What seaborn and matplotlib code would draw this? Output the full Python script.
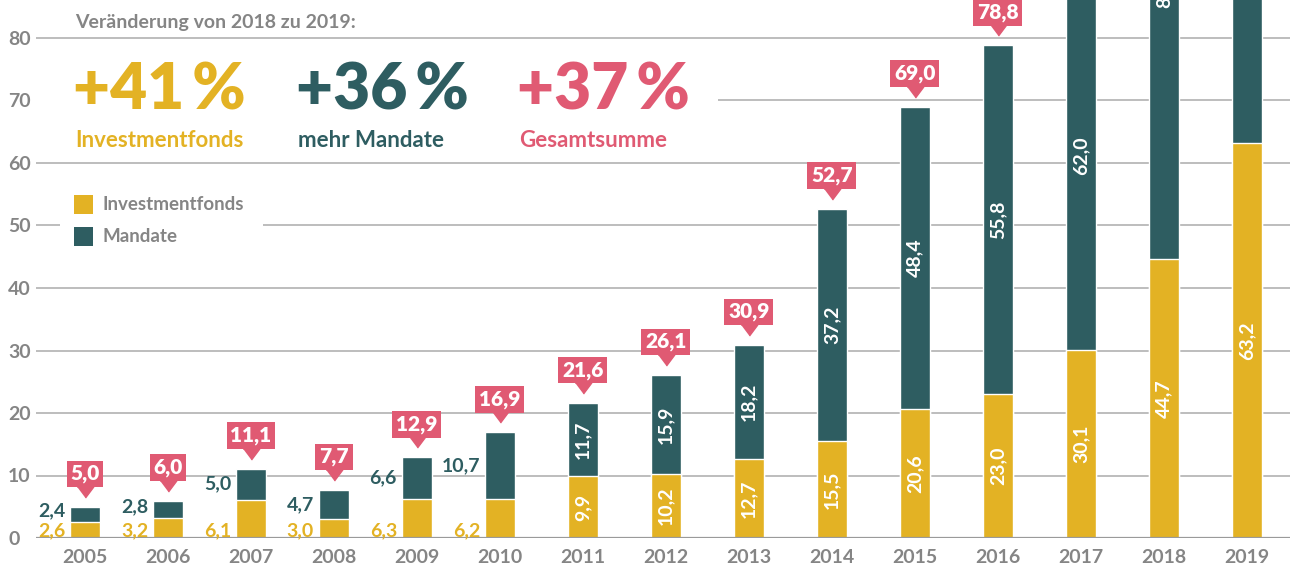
import matplotlib
matplotlib.use("Agg")
import matplotlib.pyplot as plt
import matplotlib.transforms as mtransforms
from matplotlib.patches import Rectangle
import seaborn as sns
import pandas as pd
import numpy as np

# ---- data ----
years = ["2005", "2006", "2007", "2008", "2009", "2010", "2011", "2012",
         "2013", "2014", "2015", "2016", "2017", "2018", "2019"]
investmentfonds = [2.6, 3.2, 6.1, 3.0, 6.3, 6.2, 9.9, 10.2, 12.7, 15.5, 20.6, 23.0, 30.1, 44.7, 63.2]
mandate = [2.4, 2.8, 5.0, 4.7, 6.6, 10.7, 11.7, 15.9, 18.2, 37.2, 48.4, 55.8, 62.0, 86.3, 117.4]
gesamt = [5.0, 6.0, 11.1, 7.7, 12.9, 16.9, 21.6, 26.1, 30.9, 52.7, 69.0, 78.8, 92.1, 131.0, 180.6]
y_ticks = [0, 10, 20, 30, 40, 50, 60, 70, 80]
headline = "Veränderung von 2018 zu 2019:"
kpi_values = ["+41\u2009%", "+36\u2009%", "+37\u2009%"]
kpi_labels = ["Investmentfonds", "mehr Mandate", "Gesamtsumme"]
legend_labels = ["Investmentfonds", "Mandate"]

YELLOW = "#E3B224"
TEAL = "#2E5D61"
PINK = "#E05A73"
GRAY = "#858585"
GRID = "#b8b8b8"

sns.set_theme(style="white")
plt.rcParams["font.family"] = ["Lato", "DejaVu Sans"]

df = pd.DataFrame({"year": years, "fonds": investmentfonds, "mandate": mandate})
df["top"] = df["fonds"] + df["mandate"]

W, H = 1290, 565
fig = plt.figure(figsize=(W / 100, H / 100), dpi=100)
ax = fig.add_axes([36 / W, 27 / H, (W - 36) / W, (H - 27) / H])

bw = 0.36
sns.barplot(data=df, x="year", y="top", color=TEAL, width=bw, saturation=1,
            errorbar=None, ax=ax, zorder=3)
sns.barplot(data=df, x="year", y="fonds", color=YELLOW, width=bw, saturation=1,
            errorbar=None, ax=ax, zorder=3)

ax.set_xlim(-0.59, 14.52)
ax.set_ylim(0, 538 / 6.25)
ax.set_yticks(y_ticks)
ax.set_yticklabels([str(t) for t in y_ticks])
for s in ax.spines.values():
    s.set_visible(False)
ax.yaxis.grid(True, color=GRID, linewidth=1.3, zorder=0)
ax.set_axisbelow(True)
ax.axhline(0, color="#9a9a9a", linewidth=1.6, zorder=4)
ax.set_xlabel("")
ax.set_ylabel("")
ax.tick_params(axis="y", length=0, pad=20, labelsize=14, labelcolor=GRAY)
ax.tick_params(axis="x", length=0, pad=8, labelsize=14, labelcolor=GRAY)
for lbl in ax.get_yticklabels():
    lbl.set_ha("left")
    lbl.set_fontweight("bold")
for lbl in ax.get_xticklabels():
    lbl.set_fontweight("bold")

ymax = ax.get_ylim()[1]
tri = [(-0.75, 0.5), (0.75, 0.5), (0.0, -0.5)]
for i, (f, m, t) in enumerate(zip(investmentfonds, mandate, gesamt)):
    top = f + m
    # total callouts
    if top < ymax - 5:
        ax.annotate(f"{t:.1f}".replace(".", ","), xy=(i, top), xytext=(0, 33),
                    textcoords="offset pixels", ha="center", va="center",
                    fontsize=15, fontweight="heavy", color="white", zorder=6,
                    bbox=dict(boxstyle="square,pad=0.18", fc=PINK, ec="none"))
        off = mtransforms.ScaledTranslation(0, 0.15, fig.dpi_scale_trans)
        ax.plot([i], [top], marker=tri, markersize=12, color=PINK, linestyle="none",
                transform=ax.transData + off, zorder=6, clip_on=False)
    ftxt = f"{f:.1f}".replace(".", ",")
    mtxt = f"{m:.1f}".replace(".", ",")
    if i < 6:
        ax.annotate(mtxt, xy=(i - bw / 2, max(f + m / 2, f + 1.8)), xytext=(-5, 0),
                    textcoords="offset pixels", ha="right", va="center",
                    fontsize=14, fontweight="bold", color=TEAL, zorder=6)
        ax.annotate(ftxt, xy=(i - bw / 2, 1.15), xytext=(-5, 0),
                    textcoords="offset pixels", ha="right", va="center",
                    fontsize=14, fontweight="bold", color=YELLOW, zorder=6)
    else:
        ax.text(i, f / 2, ftxt, rotation=90, ha="center", va="center",
                fontsize=14, fontweight="bold", color="white", zorder=6,
                clip_on=True)
        if f + m / 2 < ymax + 3:
            ax.text(i, f + m / 2, mtxt, rotation=90, ha="center", va="center",
                    fontsize=14, fontweight="bold", color="white", zorder=6,
                    clip_on=True)

# ---- overlays (figure pixel coordinates, y from top) ----
def fx(x):
    return x / W

def fy(y):
    return 1 - y / H

fig.patches.append(Rectangle((fx(34), fy(157)), fx(718) - fx(34), fy(52) - fy(157),
                             transform=fig.transFigure, fc="white", ec="none", zorder=5))
fig.patches.append(Rectangle((fx(60), fy(252)), fx(263) - fx(60), fy(188) - fy(252),
                             transform=fig.transFigure, fc="white", ec="none", zorder=5))

fig.text(fx(75), fy(28), headline, fontsize=14, fontweight="bold", color=GRAY,
         ha="left", va="baseline", zorder=7)
kpi_x = [75, 298, 519]
kpi_col = [YELLOW, TEAL, PINK]
for x, v, l, c in zip(kpi_x, kpi_values, kpi_labels, kpi_col):
    fig.text(fx(x - 2), fy(110), v, fontsize=46, fontweight="heavy", color=c,
             ha="left", va="baseline", zorder=7)
    fig.text(fx(x), fy(147), l, fontsize=16, fontweight="bold", color=c,
             ha="left", va="baseline", zorder=7)

for k, (lab, c) in enumerate(zip(legend_labels, [YELLOW, TEAL])):
    yc = 204.5 + 32.5 * k
    fig.patches.append(Rectangle((fx(74), fy(yc + 9.5)), fx(19), 19 / H,
                                 transform=fig.transFigure, fc=c, ec="none", zorder=6))
    fig.text(fx(102), fy(yc), lab, fontsize=13.5, fontweight="bold", color=GRAY,
             ha="left", va="center", zorder=7)

fig.savefig("out.png", dpi=100)
